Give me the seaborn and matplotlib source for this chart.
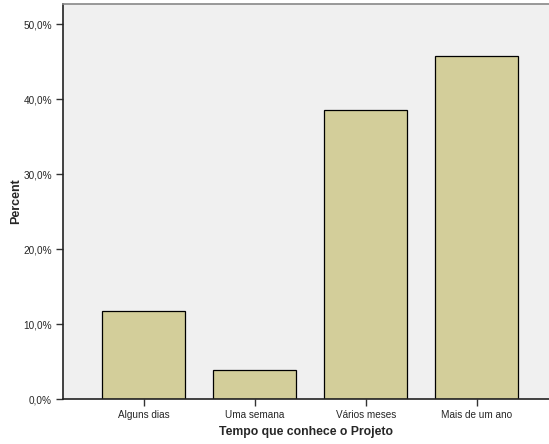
import pandas as pd
import matplotlib
matplotlib.use("Agg")
import matplotlib.pyplot as plt
import seaborn as sns
from matplotlib.ticker import FuncFormatter

# Data
categories = ['Alguns dias', 'Uma semana', 'Vários meses', 'Mais de um ano']
percent = [11.8, 3.9, 38.6, 45.7]
yticks = [0, 10, 20, 30, 40, 50]

df = pd.DataFrame({'Tempo': categories, 'Percent': percent})

sns.set_style('white')
plt.rcParams['font.family'] = ['Liberation Sans', 'DejaVu Sans']

fig = plt.figure(figsize=(5.49, 4.44), dpi=100)
ax = fig.add_axes([63 / 549, 45 / 444, 486 / 549, 395 / 444])
ax.set_facecolor('#F0F0F0')

sns.barplot(data=df, x='Tempo', y='Percent', ax=ax, color='#D3CE9A',
            saturation=1, width=0.75, edgecolor='black', linewidth=0.9)

ax.set_xlim(-0.725, 3.65)
ax.set_ylim(0, 52.7)
ax.set_yticks(yticks)
ax.yaxis.set_major_formatter(FuncFormatter(lambda v, p: f'{v:.1f}%'.replace('.', ',')))

ax.tick_params(axis='both', direction='out', length=5, width=1, color='#333333',
               labelsize=7.2, pad=3, left=True, bottom=True)

ax.set_xlabel('Tempo que conhece o Projeto', fontsize=8.8, fontweight='bold', labelpad=4)
ax.set_ylabel('Percent', fontsize=9, fontweight='bold', labelpad=1)

for side in ['left', 'bottom']:
    ax.spines[side].set_color('#222222')
    ax.spines[side].set_linewidth(1.2)
ax.spines['top'].set_color('#888888')
ax.spines['top'].set_linewidth(1.2)
ax.spines['right'].set_visible(False)

plt.savefig('out.png', dpi=100, facecolor='white')
